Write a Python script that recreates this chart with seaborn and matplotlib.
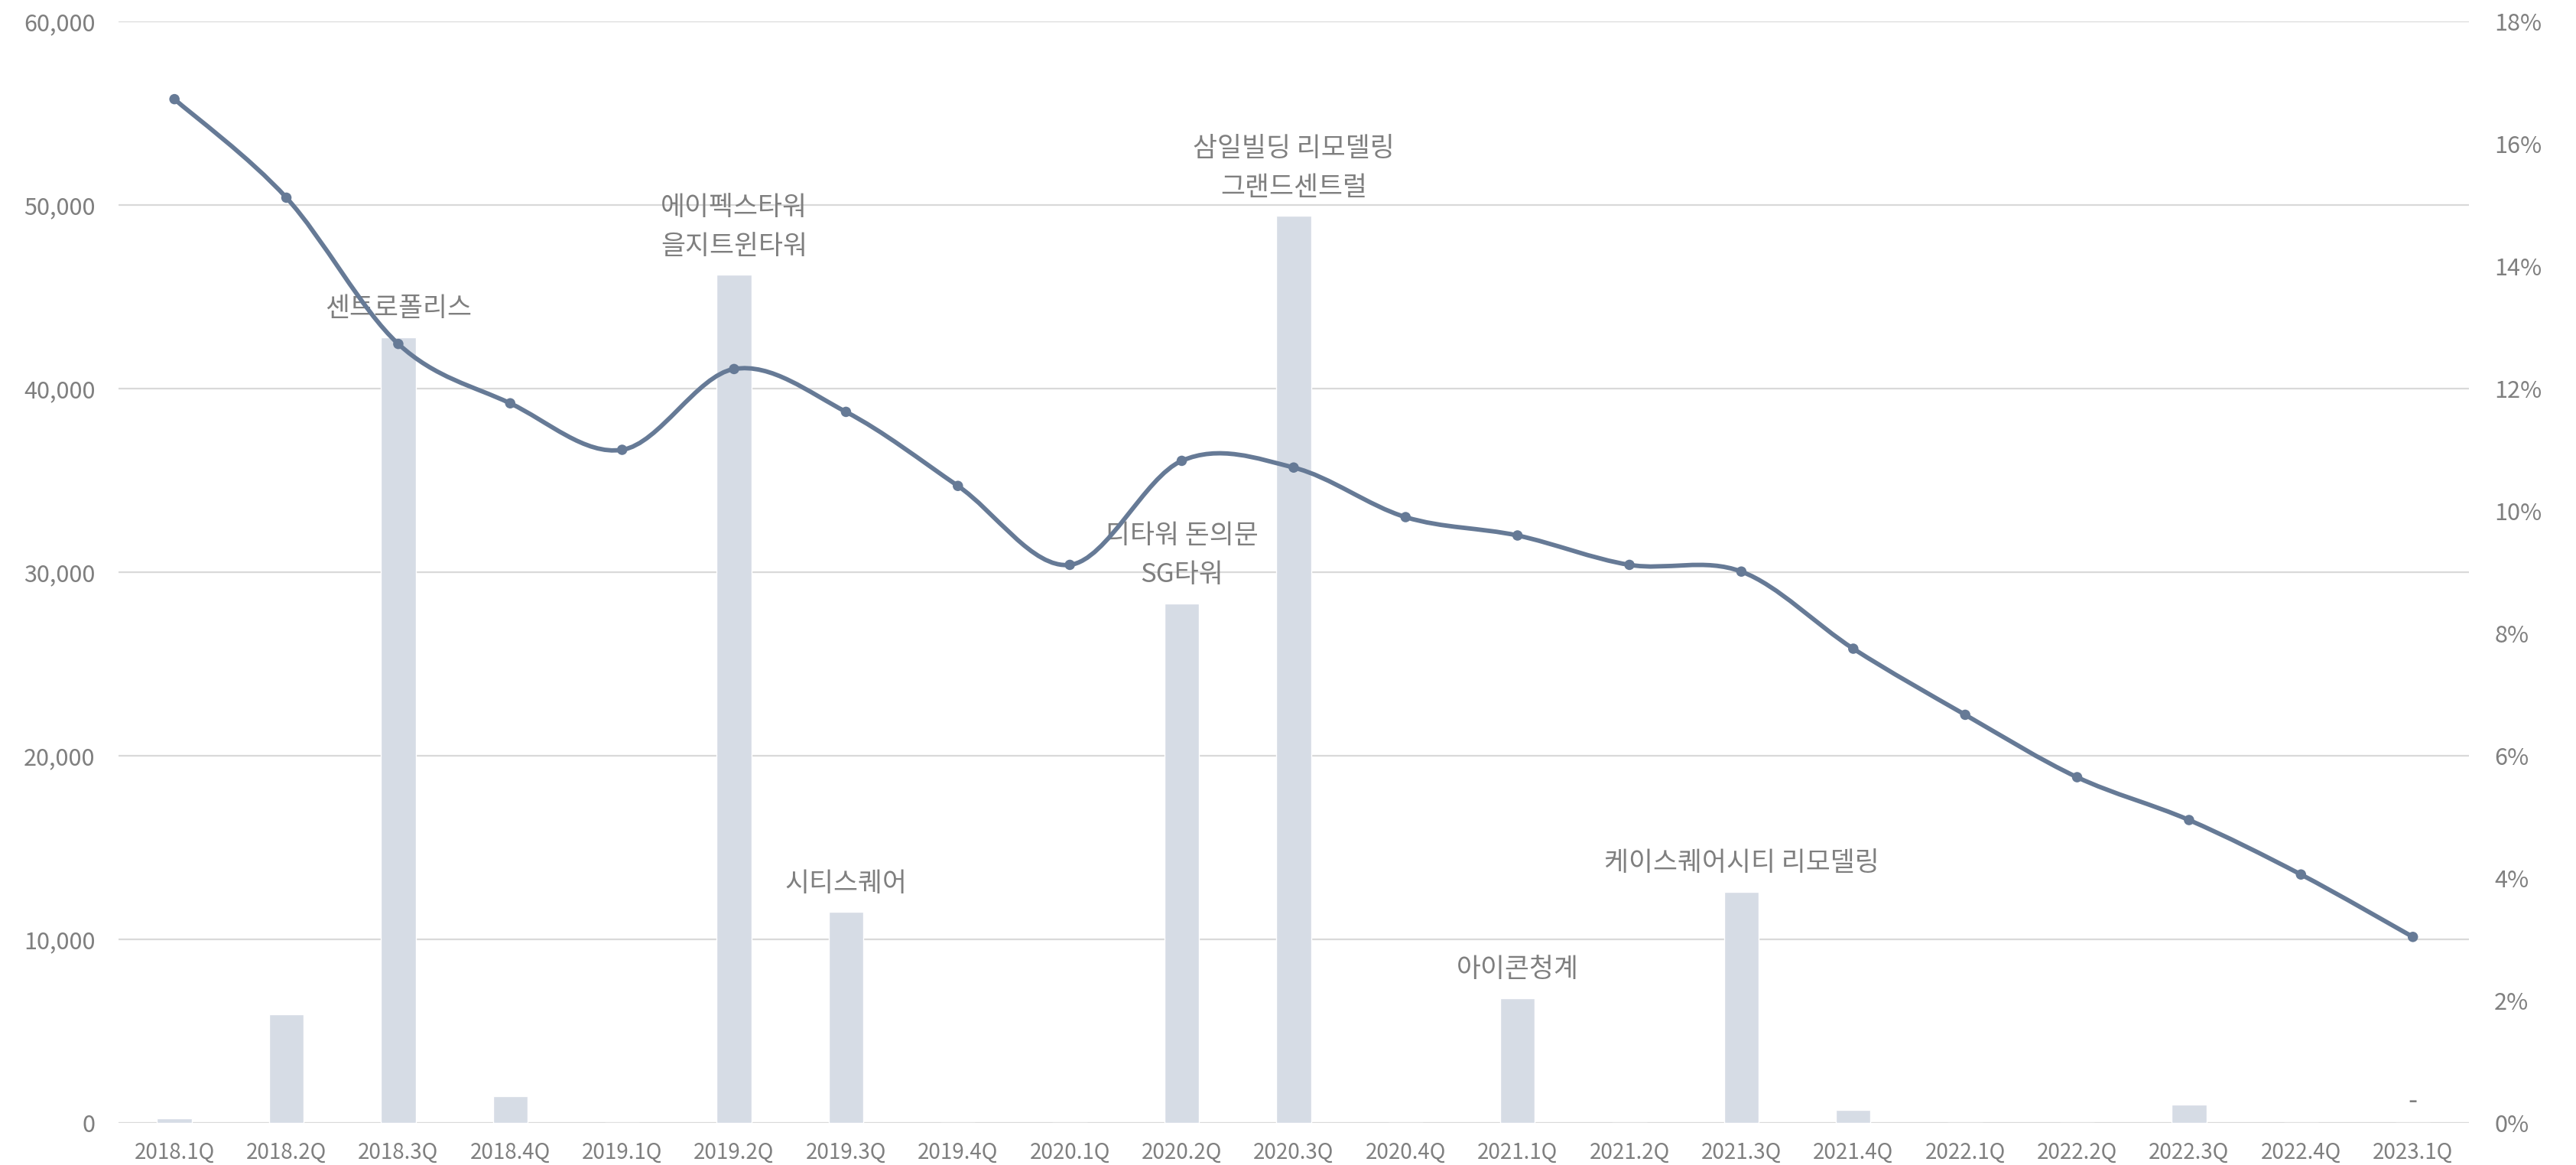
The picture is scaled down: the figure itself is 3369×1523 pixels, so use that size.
"""Office transaction volume (bars) and vacancy rate (smoothed line), 2018.1Q-2023.1Q."""

import matplotlib.pyplot as plt
import numpy as np
import pandas as pd
import seaborn as sns
from matplotlib.path import Path
from matplotlib.patches import PathPatch
from matplotlib.ticker import FuncFormatter, MultipleLocator

quarters = [
    "2018.1Q", "2018.2Q", "2018.3Q", "2018.4Q",
    "2019.1Q", "2019.2Q", "2019.3Q", "2019.4Q",
    "2020.1Q", "2020.2Q", "2020.3Q", "2020.4Q",
    "2021.1Q", "2021.2Q", "2021.3Q", "2021.4Q",
    "2022.1Q", "2022.2Q", "2022.3Q", "2022.4Q",
    "2023.1Q",
]
supply = [
    250, 5900, 42800, 1450,
    0, 46200, 11500, 0,
    0, 28300, 49400, 0,
    6800, 0, 12600, 700,
    0, 0, 1000, 0,
    0,
]
vacancy = [
    16.73, 15.12, 12.73, 11.76,
    11.00, 12.32, 11.62, 10.41,
    9.12, 10.82, 10.71, 9.90,
    9.60, 9.12, 9.01, 7.75,
    6.67, 5.65, 4.95, 4.06,
    3.04,
]
labels = {
    "2018.3Q": "센트로폴리스",
    "2019.2Q": "에이펙스타워\n을지트윈타워",
    "2019.3Q": "시티스퀘어",
    "2020.2Q": "디타워 돈의문\nSG타워",
    "2020.3Q": "삼일빌딩 리모델링\n그랜드센트럴",
    "2021.1Q": "아이콘청계",
    "2021.3Q": "케이스퀘어시티 리모델링",
    "2023.1Q": "-",
}

BAR_COLOR = "#D6DCE5"
LINE_COLOR = "#667A96"
TEXT_COLOR = "#7F7F7F"
GRID_COLOR = "#D9D9D9"

sns.set_theme(style="white")
plt.rcParams["font.family"] = ["Noto Sans CJK KR", "DejaVu Sans"]

df = pd.DataFrame({"quarter": quarters, "supply": supply, "vacancy": vacancy})

fig = plt.figure(figsize=(33.69, 15.23), dpi=100)
ax = fig.add_axes([0.046, 0.0361, 0.9124, 0.9455])

sns.barplot(data=df, x="quarter", y="supply", color=BAR_COLOR, saturation=1,
            width=0.31, ax=ax, zorder=2)
ax.set_xlim(-0.5, len(quarters) - 0.5)
ax.set_ylim(0, 60000)
ax.yaxis.set_major_locator(MultipleLocator(10000))
ax.yaxis.set_major_formatter(FuncFormatter(lambda v, _: f"{v:,.0f}"))
ax.grid(axis="y", color=GRID_COLOR, linewidth=1.6, zorder=0)
ax.set_axisbelow(True)
ax.set_xlabel("")
ax.set_ylabel("")
sns.despine(ax=ax, left=True, right=True, top=True, bottom=True)
ax.tick_params(axis="y", length=0, pad=22, labelsize=22, labelcolor=TEXT_COLOR)
ax.tick_params(axis="x", length=0, pad=17, labelsize=20, labelcolor=TEXT_COLOR)

# project labels above bars ("-" marks a zero value)
for i, q in enumerate(quarters):
    if q in labels:
        offset = 8 if labels[q] == "-" else 14
        ax.annotate(labels[q], xy=(i, supply[i]), xytext=(0, offset),
                    textcoords="offset points", ha="center", va="bottom",
                    fontsize=25, color=TEXT_COLOR, linespacing=1.6)

# vacancy rate on the right axis
ax2 = ax.twinx()
ax2.set_ylim(0, 18)
ax2.yaxis.set_major_locator(MultipleLocator(2))
ax2.yaxis.set_major_formatter(FuncFormatter(lambda v, _: f"{v:.0f}%"))
ax2.tick_params(axis="y", length=0, pad=24, labelsize=22, labelcolor=TEXT_COLOR)
ax2.grid(False)
sns.despine(ax=ax2, left=True, right=True, top=True, bottom=True)

# smoothed line like Excel (Catmull-Rom as cubic Bezier)
xs = np.arange(len(vacancy), dtype=float)
ys = np.asarray(vacancy, dtype=float)
pts = np.column_stack([xs, ys])
ext = np.vstack([pts[0], pts, pts[-1]])
verts = [pts[0]]
codes = [Path.MOVETO]
for k in range(len(pts) - 1):
    p0, p1, p2, p3 = ext[k], ext[k + 1], ext[k + 2], ext[k + 3]
    verts += [p1 + (p2 - p0) / 6, p2 - (p3 - p1) / 6, p2]
    codes += [Path.CURVE4] * 3
ax2.add_patch(PathPatch(Path(verts, codes), facecolor="none",
                        edgecolor=LINE_COLOR, linewidth=4.2, zorder=3,
                        capstyle="round", joinstyle="round"))
sns.scatterplot(x=xs, y=ys, color=LINE_COLOR, s=95, edgecolor="none",
                ax=ax2, zorder=4, legend=False)
ax2.set_xlim(-0.5, len(quarters) - 0.5)

fig.savefig("out.png", dpi=100)
